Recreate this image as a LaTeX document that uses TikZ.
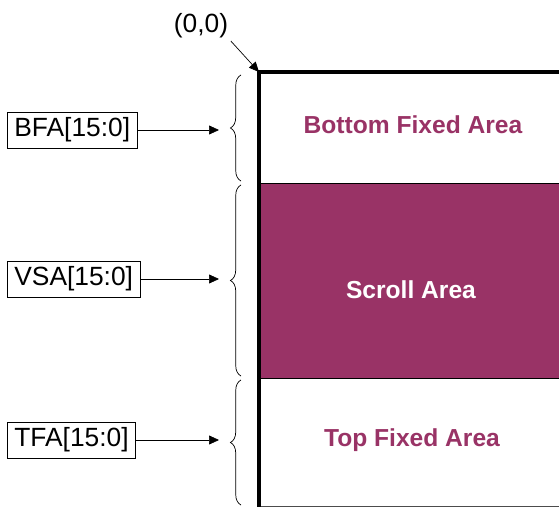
\documentclass[tikz,border=0pt]{standalone}
\usepackage{fontspec}
\setmainfont{Liberation Sans}
\usetikzlibrary{positioning, arrows.meta, decorations.pathreplacing}
\definecolor{plum}{RGB}{153,51,102}

\begin{document}
\begin{tikzpicture}[
        x=0.02cm, y=-0.02cm,
        reg/.style   = {draw, rectangle, minimum height=6.6mm, inner xsep=4pt, font=\fontsize{15}{17}\selectfont, anchor=west},
        area/.style  = {font=\bfseries\fontsize{14}{16}\selectfont, text=plum},
        brc/.style   = {decorate, decoration={brace, amplitude=6pt}, thin},
        arrow/.style = {-{Triangle[length=2mm, width=1.8mm]}, thin},
        frame/.style = {line width=2pt},
    ]
        \useasboundingbox (0,0) rectangle (559,507);

        % areas
        \fill[plum] (260,183) rectangle (559,378);
        \draw[thin] (260,183) -- (559,183);
        \draw[thin] (260,378) -- (559,378);
        \draw[thin, black!70] (260,506) -- (559,506);
        \draw[frame] (259,507) -- (259,72) -- (559,72);
        \coordinate (origin) at (259,72);

        \node[area] (bfa) at (413,125) {Bottom Fixed Area};
        \node[area, text=white] (vsa) at (411,290) {Scroll Area};
        \node[area] (tfa) at (412,440) {Top Fixed Area};

        % braces
        \draw[brc] (241,181) -- (241,75);
        \draw[brc] (241,376) -- (241,185);
        \draw[brc] (241,505) -- (241,380);
        \coordinate (bfatip) at (219,130);
        \coordinate (vsatip) at (219,279);
        \coordinate (tfatip) at (219,440);

        % registers
        \node[reg] (bfareg) at (7,130) {BFA[15:0]};
        \node[reg] (vsareg) at (7,279) {VSA[15:0]};
        \node[reg] (tfareg) at (7,440) {TFA[15:0]};

        \draw[arrow] (bfareg) -- (bfatip);
        \draw[arrow] (vsareg) -- (vsatip);
        \draw[arrow] (tfareg) -- (tfatip);

        \node[font=\fontsize{15}{17}\selectfont] (zero) at (201,26) {(0,0)};
        \draw[arrow] (zero.south east) ++(-2pt,2pt) -- (origin);
    \end{tikzpicture}
\end{document}
